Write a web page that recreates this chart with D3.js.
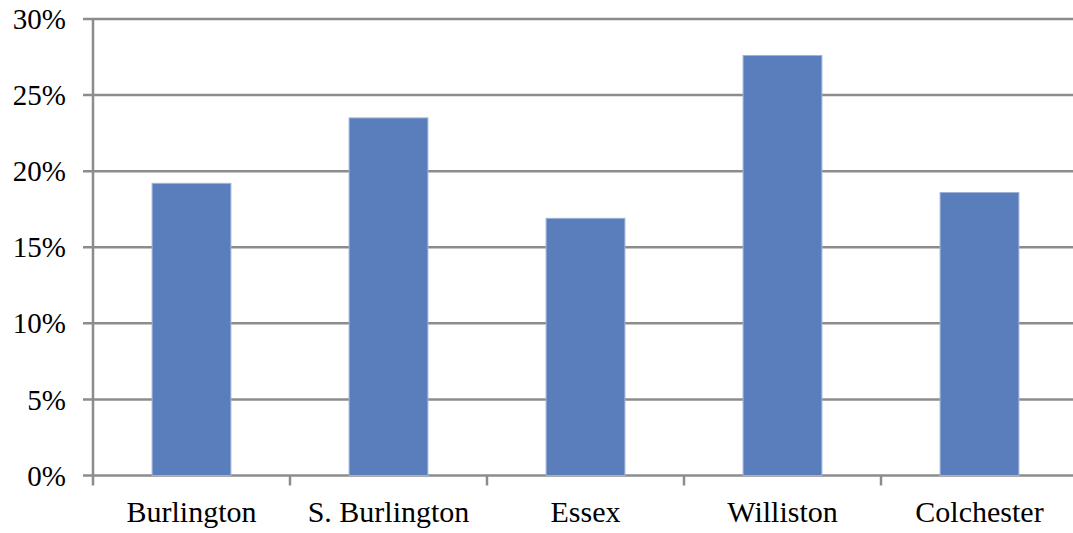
<!DOCTYPE html>
<html>
<head>
<meta charset="utf-8">
<script src="https://cdn.jsdelivr.net/npm/d3@7"></script>
<style>
  body { margin: 0; background: #fff; }
</style>
</head>
<body>
<script>
var w = 1073;
var h = 533;

var towns = ["Burlington", "S. Burlington", "Essex", "Williston", "Colchester"];
var shares = [19.2, 23.5, 16.9, 27.6, 18.6];
var yTicks = [0, 5, 10, 15, 20, 25, 30];

var padLeft = 93, padRight = 1078, padTop = 19, padBottom = 475.5;
var serif = "serif";

var svg = d3.select("body").append("svg")
    .attr("width", w)
    .attr("height", h)

var x = d3.scaleBand()
  .domain(towns)
  .range([padLeft, padRight])
  .paddingInner(0.6)
  .paddingOuter(0.3);

var xEdges = d3.scaleLinear()
  .domain([0, towns.length])
  .range([padLeft, padRight]);

var y = d3.scaleLinear()
  .domain([0, 30])
  .range([padBottom, padTop]);

// gridlines
svg.append("g")
  .selectAll("line")
  .data(yTicks)
  .join("line")
    .attr("x1", padLeft - 10)
    .attr("x2", w)
    .attr("y1", function(d) { return y(d); })
    .attr("y2", function(d) { return y(d); })
    .attr("stroke", "#8c8c8c")
    .attr("stroke-width", 2.5);

// y labels
svg.append("g")
  .selectAll("text")
  .data(yTicks)
  .join("text")
    .attr("x", padLeft - 27)
    .attr("y", function(d) { return y(d); })
    .attr("dy", "0.35em")
    .attr("text-anchor", "end")
    .attr("font-family", serif)
    .attr("font-size", 29)
    .text(function(d) { return d + "%"; });

// bars
svg.append("g")
  .selectAll("rect")
  .data(towns)
  .join("rect")
    .attr("x", function(d) { return x(d); })
    .attr("width", x.bandwidth())
    .attr("y", function(d, i) { return y(shares[i]); })
    .attr("height", function(d, i) { return padBottom - y(shares[i]); })
    .attr("fill", "#5a7dbb")
    .attr("stroke", "#9fb3d9")
    .attr("stroke-width", 1);

// y axis line
svg.append("line")
  .attr("x1", padLeft).attr("x2", padLeft)
  .attr("y1", padTop).attr("y2", padBottom)
  .attr("stroke", "#8c8c8c")
  .attr("stroke-width", 2.5);

// x category ticks
svg.append("g")
  .selectAll("line")
  .data(d3.range(towns.length + 1))
  .join("line")
    .attr("x1", function(d) { return xEdges(d); })
    .attr("x2", function(d) { return xEdges(d); })
    .attr("y1", padBottom)
    .attr("y2", padBottom + 10)
    .attr("stroke", "#8c8c8c")
    .attr("stroke-width", 2.5);

// x labels
svg.append("g")
  .selectAll("text")
  .data(towns)
  .join("text")
    .attr("x", function(d) { return x(d) + x.bandwidth() / 2; })
    .attr("y", 522)
    .attr("text-anchor", "middle")
    .attr("font-family", serif)
    .attr("font-size", 30)
    .text(function(d) { return d; });
</script>
</body>
</html>
